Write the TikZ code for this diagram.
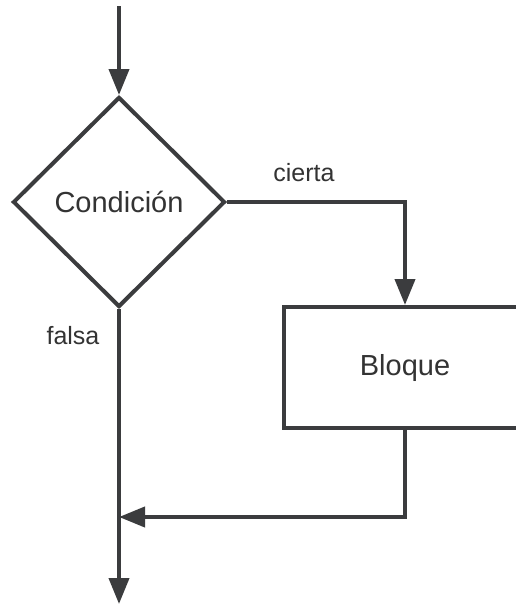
\documentclass[tikz,border=0pt]{standalone}
\usepackage{fontspec}
\setmainfont{Liberation Sans}
\usetikzlibrary{shapes.geometric,arrows.meta}
\definecolor{ln}{HTML}{3B3C3E}
\definecolor{tx}{HTML}{333333}
\tikzset{
  conn/.style={draw=ln, line width=4pt, -{Triangle[length=26pt,width=20pt]}},
  decbox/.style={diamond, draw=ln, line width=4pt, minimum width=212pt, minimum height=210pt, inner sep=0pt, aspect=1, text=tx, font=\fontsize{29}{34}\selectfont},
  blkbox/.style={rectangle, draw=ln, line width=4pt, minimum width=242pt, minimum height=121pt, inner sep=0pt, text=tx, font=\fontsize{29}{34}\selectfont},
  lbl/.style={text=tx, inner sep=0pt, font=\fontsize{25}{30}\selectfont}
}
\begin{document}
\begin{tikzpicture}[x=1pt,y=-1pt]
\useasboundingbox (0,0) rectangle (516,605);
\clip (0,0) rectangle (516,605);
\fill[white] (0,0) rectangle (516,605);
\node[decbox] (cond) at (119,202) {Condición};
\node[blkbox] (blk) at (405,367.5) {Bloque};
\coordinate (start) at (119,6);
\coordinate (end) at (119,604);
\coordinate (join) at (119,517);
\draw[conn] (start) -- (cond.north);
\draw[conn] (cond.east) -| (blk.north);
\draw[conn] (blk.south) |- (join);
\draw[conn] (cond.south) -- (end);
\node[lbl] (lcierta) at (304,173) {cierta};
\node[lbl] (lfalsa) at (73,336) {falsa};
\end{tikzpicture}
\end{document}
